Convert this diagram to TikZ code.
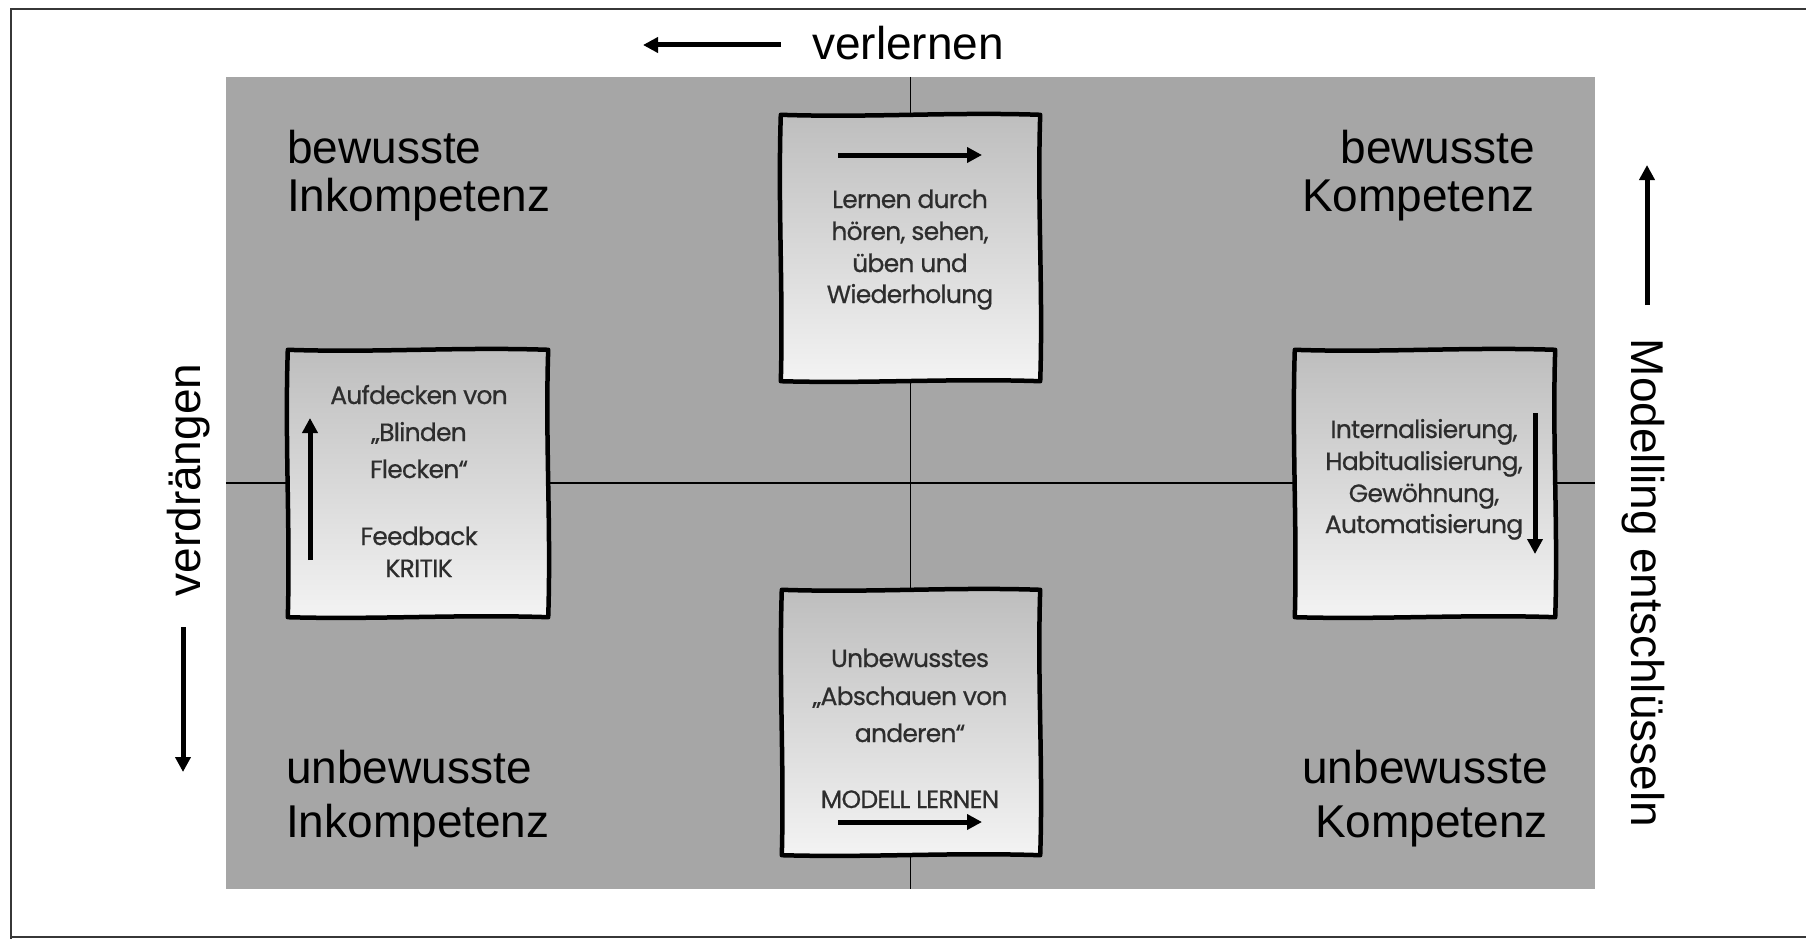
\documentclass[tikz,border=0pt]{standalone}
\usepackage{fontspec}
\setmainfont{Liberation Sans}
\newfontfamily\boxfont[FakeBold=0.6, LetterSpace=-3]{Poppins}
\usetikzlibrary{arrows.meta}
\definecolor{bggray}{RGB}{166,166,166}
\definecolor{boxtop}{RGB}{190,190,190}
\definecolor{boxbot}{RGB}{243,243,243}
\definecolor{framec}{RGB}{55,55,55}
\definecolor{boxtext}{RGB}{45,45,45}
\newcommand\wavyoutline[1]{%
  \draw[line width=4.5pt, line join=round]
    (#1.north west) .. controls +(90,3) and +(-90,-3) .. (#1.north east)
    .. controls +(-3,90) and +(3,-90) .. (#1.south east)
    .. controls +(-90,-3) and +(90,2.5) .. (#1.south west)
    .. controls +(2.5,-90) and +(-3,90) .. cycle;}
\begin{document}
\begin{tikzpicture}[x=1pt,y=-1pt,
  big/.style={font=\fontsize{46}{50}\selectfont, inner sep=0pt},
  small/.style={font=\boxfont\fontsize{25}{30}\selectfont, inner sep=0pt, anchor=base, text=boxtext},
  fatarrow/.style={line width=5pt, -{Triangle[length=15pt,width=15pt]}},
  sketchbox/.style={top color=boxtop, bottom color=boxbot, inner sep=0pt},
  axis/.style={line width=1.8pt, black},
]
\useasboundingbox (0,0) rectangle (1806,939);
\fill[white] (0,0) rectangle (1806,939);
% outer frame
\draw[framec, line width=2.5pt] (11,939) -- (11,9) -- (1806,9);
\draw[framec, line width=2.5pt] (11,937) -- (1806,937);

% grey field
\node[fill=bggray, minimum width=1369pt, minimum height=812pt, inner sep=0pt] (bg) at (910.5,483) {};
\draw[axis] (bg.north) -- (bg.south);
\draw[axis] (bg.west) -- (bg.east);

% boxes
\node[sketchbox, minimum width=259pt, minimum height=266pt] (boxtop) at (910.5,248) {};
\node[sketchbox, minimum width=258pt, minimum height=265pt] (boxbot) at (911,722.5) {};
\node[sketchbox, minimum width=260pt, minimum height=267pt] (boxleft) at (418,483.5) {};
\node[sketchbox, minimum width=260pt, minimum height=267pt] (boxright) at (1425,483.5) {};
\wavyoutline{boxtop}
\wavyoutline{boxbot}
\wavyoutline{boxleft}
\wavyoutline{boxright}

% top box
\coordinate (ta1) at (838,155); \coordinate (ta2) at (982,155);
\draw[fatarrow] (ta1) -- (ta2);
\node[small] (t1) at (910,208) {Lernen durch};
\node[small] (t2) at (910,240) {hören, sehen,};
\node[small] (t3) at (910,272) {üben und};
\node[small] (t4) at (910,303) {Wiederholung};

% left box
\coordinate (la1) at (310,560); \coordinate (la2) at (310,418);
\draw[fatarrow] (la1) -- (la2);
\node[small] (l1) at (419,404) {Aufdecken von};
\node[small] (l2) at (419,441) {„Blinden};
\node[small] (l3) at (419,478) {Flecken“};
\node[small] (l4) at (419,545) {Feedback};
\node[small] (l5) at (419,577) {KRITIK};

% right box
\coordinate (ra1) at (1535,413); \coordinate (ra2) at (1535,554);
\draw[fatarrow] (ra1) -- (ra2);
\node[small] (r1) at (1424,438) {Internalisierung,};
\node[small] (r2) at (1424,470) {Habitualisierung,};
\node[small] (r3) at (1424,502) {Gewöhnung,};
\node[small] (r4) at (1424,533) {Automatisierung};

% bottom box
\node[small] (b1) at (910,667) {Unbewusstes};
\node[small] (b2) at (910,705) {„Abschauen von};
\node[small] (b3) at (910,742) {anderen“};
\node[small] (b4) at (910,808) {MODELL LERNEN};
\coordinate (ba1) at (838,822); \coordinate (ba2) at (982,822);
\draw[fatarrow] (ba1) -- (ba2);

% corner labels
\node[big, anchor=base west] (tl1) at (287,163) {bewusste};
\node[big, anchor=base west] (tl2) at (287,211) {Inkompetenz};
\node[big, anchor=base east] (tr1) at (1535,163) {bewusste};
\node[big, anchor=base east] (tr2) at (1535,211) {Kompetenz};
\node[big, anchor=base west] (bl1) at (286,783) {unbewusste};
\node[big, anchor=base west] (bl2) at (286,837) {Inkompetenz};
\node[big, anchor=base east] (br1) at (1548,783) {unbewusste};
\node[big, anchor=base east] (br2) at (1548,837) {Kompetenz};

% outer labels
\node[big, anchor=base west] (verl) at (812,60) {verlernen};
\coordinate (va1) at (781,45); \coordinate (va2) at (643,45);
\draw[fatarrow] (va1) -- (va2);

\node[big, anchor=base, rotate=90] (verd) at (200,480) {verdrängen};
\coordinate (da1) at (183,627); \coordinate (da2) at (183,772);
\draw[fatarrow] (da1) -- (da2);

\node[big, anchor=base, rotate=-90] (mod) at (1631,583) {Modelling entschlüsseln};
\coordinate (ma1) at (1647,305); \coordinate (ma2) at (1647,165);
\draw[fatarrow] (ma1) -- (ma2);
\end{tikzpicture}
\end{document}
